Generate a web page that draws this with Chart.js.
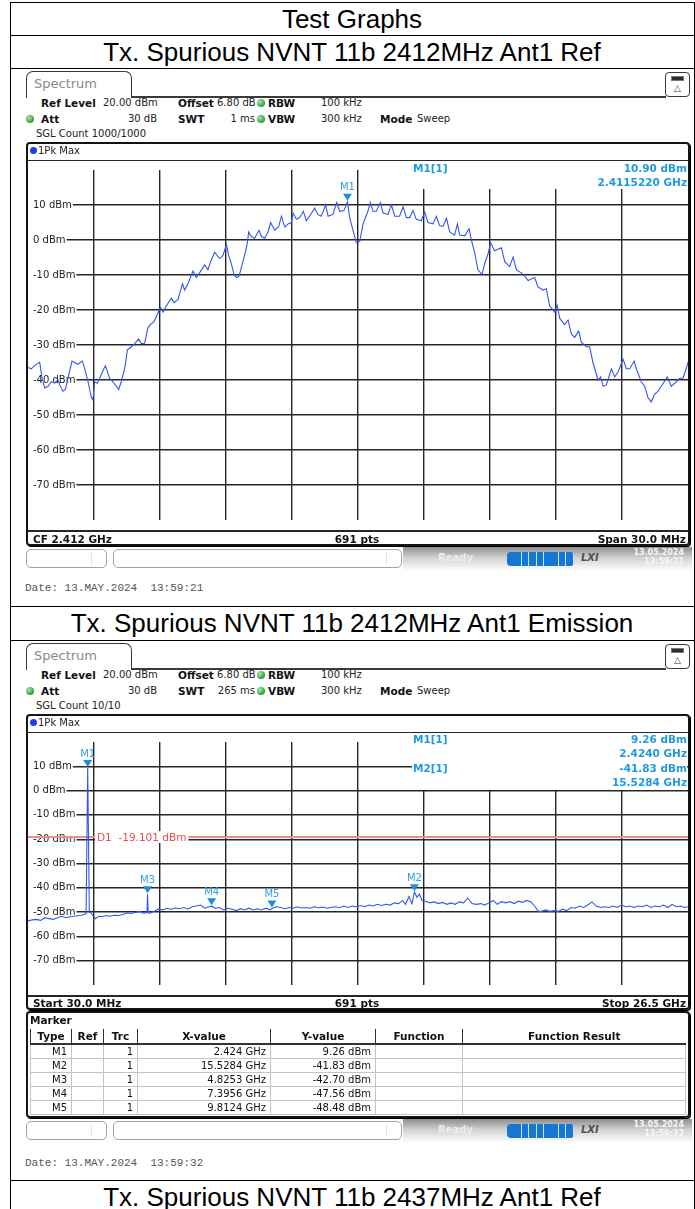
<!DOCTYPE html>
<html>
<head>
<meta charset="utf-8">
<script src="https://cdn.jsdelivr.net/npm/chart.js@4.4.1/dist/chart.umd.min.js"></script>
<style>
  html, body { margin: 0; padding: 0; background: #fff; }
  #page { position: relative; width: 695px; height: 1209px; overflow: hidden; font-family: 'DejaVu Sans', sans-serif; }
  canvas { position: absolute; }
  .ttl { position: absolute; left: 10px; width: 684px; text-align: center; font-family: 'Liberation Sans', Arial, sans-serif; font-size: 26px; color: #000; white-space: nowrap; }
  table.mk { position: absolute; border-collapse: collapse; table-layout: fixed; font-size: 10px; color: #111; }
  table.mk td, table.mk th { padding: 0 4px 0 0; white-space: nowrap; overflow: hidden; }
  table.mk th { font-weight: bold; font-size: 10.5px; text-align: center; padding: 0; height: 14px; line-height: 14px; border-left: 1px solid #333; border-bottom: 2px solid #333; }
  table.mk td { text-align: right; height: 13px; line-height: 13px; border: 1px solid #c4c4c4; }
</style>
</head>
<body>
<div id="page">
  <canvas id="refChart" width="661" height="372" style="left:28px;top:159px;width:661px;height:372px"></canvas>
  <canvas id="emiChart" width="661" height="265" style="left:28px;top:731px;width:661px;height:265px"></canvas>
</div>
<script>
// ---- Ref sweep: 2412 MHz carrier, 30 MHz span ----
const REF_FREQ_MHZ = [
  2397.00, 2397.15, 2397.30, 2397.53, 2397.64, 2397.76, 2397.91, 2398.06, 2398.21, 2398.36,
  2398.44, 2398.59, 2398.70, 2398.85, 2399.00, 2399.12, 2399.27, 2399.47, 2399.58, 2399.73,
  2399.88, 2399.95, 2400.03, 2400.15, 2400.26, 2400.41, 2400.52, 2400.64, 2400.71, 2400.86,
  2401.02, 2401.12, 2401.24, 2401.39, 2401.52, 2401.70, 2401.85, 2402.03, 2402.15, 2402.30,
  2402.45, 2402.56, 2402.73, 2403.02, 2403.14, 2403.29, 2403.52, 2403.64, 2403.82, 2404.02,
  2404.12, 2404.27, 2404.50, 2404.65, 2404.80, 2405.03, 2405.18, 2405.30, 2405.48, 2405.71,
  2405.86, 2406.02, 2406.12, 2406.24, 2406.36, 2406.47, 2406.59, 2406.73, 2406.88, 2406.97,
  2407.03, 2407.15, 2407.30, 2407.50, 2407.61, 2407.76, 2407.91, 2408.03, 2408.21, 2408.39,
  2408.52, 2408.67, 2408.82, 2408.97, 2409.05, 2409.20, 2409.35, 2409.52, 2409.65, 2409.80,
  2410.03, 2410.18, 2410.33, 2410.53, 2410.64, 2410.86, 2411.03, 2411.17, 2411.36, 2411.52,
  2411.62, 2411.77, 2411.92,
  2412.08, 2412.23, 2412.45, 2412.56, 2412.68, 2412.83, 2413.02, 2413.14, 2413.36, 2413.52,
  2413.67, 2413.89, 2414.05, 2414.20, 2414.35, 2414.50, 2414.65, 2414.88, 2415.03, 2415.18,
  2415.41, 2415.56, 2415.71, 2415.86, 2416.02, 2416.17, 2416.39, 2416.52, 2416.62, 2416.85,
  2417.05, 2417.15, 2417.30, 2417.45, 2417.64, 2417.76, 2417.91, 2418.03, 2418.21, 2418.52,
  2418.67, 2418.89, 2419.05, 2419.20, 2419.42, 2419.58, 2419.73, 2420.03, 2420.18, 2420.41,
  2420.56, 2420.71, 2420.94, 2421.05, 2421.17, 2421.39, 2421.55, 2421.70, 2421.85, 2422.03,
  2422.15, 2422.38, 2422.53, 2422.68, 2422.91, 2423.03, 2423.14, 2423.29, 2423.52, 2423.67,
  2423.82, 2424.05, 2424.20, 2424.35, 2424.55, 2424.65, 2424.88, 2425.03, 2425.18, 2425.33,
  2425.48, 2425.64, 2425.79, 2426.06, 2426.24, 2426.47, 2426.62, 2426.77, 2426.92, 2427.00,
];
const REF_LEVEL_DBM = [
  -36.4, -36.8, -35.9, -34.9, -39.5, -42.3, -41.8, -40.5, -40.9, -40.0,
  -41.4, -43.2, -42.7, -38.6, -34.6, -35.0, -35.5, -34.6, -36.8, -40.5,
  -45.0, -45.7, -40.5, -40.9, -39.5, -37.3, -35.9, -38.2, -39.5, -40.5,
  -41.8, -42.7, -40.5, -36.8, -31.4, -30.5, -29.6, -28.3, -29.6, -29.5,
  -25.1, -24.2, -23.3, -19.3, -20.6, -18.8, -16.6, -17.9, -17.0, -12.5,
  -14.3, -12.5, -8.9, -10.7, -9.4, -7.1, -8.5, -6.2, -3.5, -5.3,
  -4.4, -1.3, -4.4, -6.7, -9.8, -10.7, -10.3, -7.1, -3.5, -0.8,
  2.3, 1.0, 0.5, 2.8, 1.0, 0.5, 2.3, 5.0, 2.8, 3.7,
  6.8, 3.7, 4.6, 5.0, 7.7, 5.9, 6.4, 8.2, 5.5, 6.8,
  9.1, 7.3, 6.8, 10.0, 6.8, 7.3, 10.7, 8.2, 8.4, 10.9,
  6.4, 2.8, -0.8,
  -0.4, 4.6, 8.2, 10.7, 8.2, 8.2, 10.7, 7.7, 7.3, 10.0,
  6.8, 6.8, 9.5, 6.4, 6.4, 8.4, 5.9, 5.5, 8.0, 5.0,
  4.6, 6.8, 4.1, 3.9, 6.2, 2.3, 1.4, 4.6, 1.4, 1.2,
  3.2, 0.1, -3.5, -8.5, -9.8, -6.7, -4.0, -0.8, -3.1, -2.2,
  -6.2, -7.6, -4.9, -8.5, -9.4, -10.3, -11.6, -10.7, -13.4, -14.3,
  -13.9, -18.8, -20.6, -18.6, -22.4, -24.2, -22.9, -26.9, -27.8, -26.0,
  -29.2, -30.5, -30.5, -35.0, -40.0, -39.1, -41.8, -41.4, -36.8, -39.1,
  -37.7, -34.1, -36.8, -36.8, -34.6, -36.8, -40.5, -41.8, -45.0, -46.3,
  -44.1, -43.2, -41.8, -39.1, -41.8, -40.5, -39.5, -39.5, -36.8, -35.0,
];
const REF_MARKER_NAMES = ['M1'];
const REF_MARKER_FREQ_MHZ = [2411.522];
const REF_MARKER_LEVEL = [10.90];

// ---- Emission sweep: 30 MHz .. 26.5 GHz ----
const EMI_FREQ_GHZ = [
  0.03, 0.20, 0.37, 0.54, 0.71, 0.87, 1.04, 1.21, 1.38, 1.55,
  1.72, 1.89, 2.06, 2.22, 2.36, 2.424, 2.49, 2.56, 2.65, 2.73,
  2.87, 2.98, 3.15, 3.32, 3.49, 3.66, 3.83, 4.00, 4.17, 4.33,
  4.50, 4.67, 4.80, 4.8253, 4.85, 4.93, 5.09, 5.26, 5.43, 5.60,
  5.77, 5.94, 6.11, 6.28, 6.44, 6.61, 6.78, 6.95, 7.12, 7.29,
  7.3956, 7.54, 7.71, 7.88, 8.05, 8.22, 8.39, 8.55, 8.72, 8.89,
  9.06, 9.23, 9.40, 9.57, 9.74, 9.8124, 9.99, 10.16, 10.33, 10.50,
  10.66, 10.83, 11.00, 11.17, 11.34, 11.51, 11.68, 11.85, 12.02, 12.18,
  12.35, 12.52, 12.69, 12.86, 13.03, 13.20, 13.37, 13.54, 13.70, 13.87,
  14.04, 14.21, 14.38, 14.55, 14.72, 14.89, 15.05, 15.17, 15.31, 15.43,
  15.5284, 15.63, 15.73, 15.83, 15.98, 16.15, 16.32, 16.49, 16.66, 16.83,
  17.00, 17.16, 17.33, 17.50, 17.67, 17.84, 18.01, 18.18, 18.35, 18.51,
  18.68, 18.85, 19.02, 19.19, 19.36, 19.53, 19.70, 19.86, 20.03, 20.20,
  20.37, 20.49, 20.62, 20.79, 20.96, 21.13, 21.30, 21.47, 21.64, 21.81,
  21.97, 22.14, 22.31, 22.48, 22.65, 22.82, 22.99, 23.16, 23.32, 23.49,
  23.66, 23.83, 24.00, 24.17, 24.34, 24.51, 24.68, 24.84, 25.01, 25.18,
  25.35, 25.52, 25.69, 25.86, 26.03, 26.20, 26.37, 26.50,
];
const EMI_LEVEL_DBM = [
  -53.6, -53.2, -53.0, -53.4, -52.3, -52.7, -53.0, -52.3, -51.7, -52.3,
  -51.9, -51.7, -51.4, -51.2, -50.6, 9.26, -50.0, -50.4, -51.7, -52.7,
  -51.7, -51.9, -51.4, -51.7, -51.3, -51.4, -51.0, -50.4, -50.6, -50.1,
  -49.7, -50.4, -50.2, -42.70, -50.3, -50.4, -49.7, -48.8, -49.1, -48.4,
  -48.8, -48.3, -48.6, -48.1, -48.8, -47.8, -47.5, -47.1, -48.4, -47.8,
  -47.56, -48.4, -48.1, -49.1, -48.4, -48.8, -49.4, -48.6, -49.1, -48.4,
  -49.1, -48.6, -49.1, -48.4, -49.1, -48.48, -47.8, -48.1, -48.6, -48.1,
  -48.4, -47.8, -48.3, -48.1, -48.4, -47.8, -48.2, -47.9, -48.4, -48.1,
  -47.8, -48.2, -47.5, -48.1, -47.5, -47.8, -47.3, -47.8, -47.1, -47.5,
  -46.8, -47.3, -46.8, -47.1, -46.2, -46.5, -45.2, -46.8, -43.6, -46.5,
  -41.83, -43.9, -42.6, -45.2, -45.5, -46.2, -45.8, -46.5, -46.0, -46.8,
  -46.2, -46.8, -45.8, -46.2, -44.2, -46.5, -46.8, -46.5, -47.1, -46.2,
  -45.2, -46.8, -45.7, -46.2, -45.7, -46.5, -45.5, -46.0, -45.2, -45.8,
  -47.8, -49.6, -49.7, -49.1, -49.7, -49.4, -49.7, -48.8, -49.4, -48.1,
  -48.4, -47.5, -48.1, -47.1, -45.8, -47.5, -48.1, -47.8, -48.1, -47.5,
  -48.1, -47.1, -47.8, -47.5, -48.1, -47.5, -47.8, -47.1, -48.1, -47.5,
  -47.8, -47.1, -48.1, -46.8, -47.8, -47.5, -48.1, -47.8,
];
const EMI_MARKER_NAMES = ['M1', 'M2', 'M3', 'M4', 'M5'];
const EMI_MARKER_FREQ_GHZ = [2.424, 15.5284, 4.8253, 7.3956, 9.8124];
const EMI_MARKER_LEVEL = [9.26, -41.83, -42.70, -47.56, -48.48];
const EMI_MARKER_X_TEXT = ['2.424 GHz', '15.5284 GHz', '4.8253 GHz', '7.3956 GHz', '9.8124 GHz'];
const D1_LEVEL = -19.101;

const Y_MIN = -80;
const Y_MAX = 20;

Chart.defaults.font.family = "'DejaVu Sans', sans-serif";
Chart.defaults.animation = false;

const page = document.getElementById('page');
const BLUE_TXT = '#1f9ae2';
const GRID = '#262626';

function box(x, y, w, h, css) {
  const d = document.createElement('div');
  d.style.cssText = `position:absolute;left:${x}px;top:${y}px;width:${w}px;height:${h}px;box-sizing:border-box;` + (css || '');
  page.appendChild(d);
  return d;
}

function text(x, yc, s, css, align) {
  const d = document.createElement('div');
  let pos = `left:${x}px;`;
  if (align === 'right') pos = `right:${695 - x}px;`;
  if (align === 'center') pos = `left:${x - 200}px;width:400px;text-align:center;`;
  d.style.cssText = `position:absolute;${pos}top:${yc - 8}px;height:16px;line-height:16px;white-space:pre;font-size:10.5px;color:#111;` + (css || '');
  d.textContent = s;
  page.appendChild(d);
  return d;
}

function dot(x, yc) {
  box(x - 4, yc - 4, 8, 8, 'border-radius:50%;background:radial-gradient(circle at 35% 35%, #a6e8a6, #2f9d3b 70%);');
}

// outer report table
function hline(y) { box(10, y, 685, 1, 'background:#000;'); }
[2, 35, 68, 606, 640, 1180].forEach(hline);
box(10, 2, 1, 1207, 'background:#000;');
box(694, 2, 1, 1207, 'background:#000;');

function title(y, h, s) {
  const d = document.createElement('div');
  d.className = 'ttl';
  d.style.top = y + 'px';
  d.style.height = h + 'px';
  d.style.lineHeight = h + 'px';
  d.textContent = s;
  page.appendChild(d);
}
title(3, 32, 'Test Graphs');
title(36, 32, 'Tx. Spurious NVNT 11b 2412MHz Ant1 Ref');
title(607, 33, 'Tx. Spurious NVNT 11b 2412MHz Ant1 Emission');
title(1181, 32, 'Tx. Spurious NVNT 11b 2437MHz Ant1 Ref');

// analyzer window chrome
function panelHeader(y0, swt, count) {
  box(26, y0, 106, 27, 'border:1.5px solid #3a3a3a;border-bottom:none;border-radius:7px 7px 0 0;background:#fff;');
  text(34, y0 + 13, 'Spectrum', 'font-size:13px;color:#8a8a8a;');
  box(131, y0 + 25, 535, 1.5, 'background:#3a3a3a;');
  box(665, y0 + 1, 25, 25, 'border:1.5px solid #3a3a3a;border-radius:4px;background:#fff;');
  box(671, y0 + 5, 13, 5, 'background:#2e2e2e;border:1px solid #777;');
  text(677.5, y0 + 17, '△', 'font-size:9px;color:#333;', 'center');

  const r1 = y0 + 32, r2 = y0 + 48, r3 = y0 + 63;
  const B = 'font-weight:bold;';
  const V = 'font-size:10px;color:#222;';
  text(41, r1, 'Ref Level', B);
  text(103, r1, '20.00 dBm', V);
  text(178, r1, 'Offset', B);
  text(217, r1, '6.80 dB', V);
  dot(261, r1);
  text(268, r1, 'RBW', B);
  text(321, r1, '100 kHz', V);

  dot(30, r2);
  text(41, r2, 'Att', B);
  text(157, r2, '30 dB', V, 'right');
  text(178, r2, 'SWT', B);
  text(255, r2, swt, V, 'right');
  dot(261, r2);
  text(268, r2, 'VBW', B);
  text(321, r2, '300 kHz', V);
  text(380, r2, 'Mode', B);
  text(417, r2, 'Sweep', V);

  text(36, r3, count, V);
}

function plotFrame(top, gridTop, gridBottom, bottom, leftTxt, rightTxt) {
  box(26, top, 664, bottom - top, 'border:2px solid #141414;border-radius:4px;box-shadow:1px 1px 0 #000;');
  box(30, top + 5, 7, 7, 'border-radius:50%;background:#1d3fe6;');
  text(38, top + 9, '1Pk Max', 'font-size:10px;color:#222;');
  box(28, gridTop, 660, 1.4, `background:${GRID};`);
  box(28, gridBottom, 660, 1.6, `background:${GRID};`);
  const yc = (gridBottom + bottom) / 2 + 0.5;
  text(33, yc, leftTxt, 'font-weight:bold;');
  text(357, yc, '691 pts', 'font-weight:bold;', 'center');
  text(686, yc, rightTxt, 'font-weight:bold;', 'right');
}

function statusBar(y, timeStr) {
  box(26, y, 81, 19, 'border:1px solid #a2a2a2;border-radius:5px;background:#fff;');
  box(91, y + 3, 1, 13, 'background:#e4e4e4;');
  box(113, y, 289, 19, 'border:1px solid #a2a2a2;border-radius:5px;background:#fff;');
  box(386, y + 3, 1, 13, 'background:#e4e4e4;');
  box(403, y - 2, 289, 24, 'background:linear-gradient(#8e8e8e, #d2d2d2 45%, #ffffff);');
  text(438, y + 9, 'Ready', 'color:#ececec;font-weight:bold;font-size:10px;');
  box(507, y + 3, 67, 14, 'border-radius:4px;background:repeating-linear-gradient(90deg, #1677d2 0 6.5px, #cfe2f6 6.5px 7.4px);');
  text(581, y + 9, 'LXI', 'color:#505050;font-weight:bold;font-style:italic;font-size:10px;');
  text(684, y + 4, '13.05.2024', 'color:#f6f6f6;font-weight:bold;font-size:8px;', 'right');
  text(684, y + 13, timeStr, 'color:#f6f6f6;font-weight:bold;font-size:8px;', 'right');
}

function dateLine(y, s) {
  text(25, y, s, "font-family:'Liberation Mono', monospace;font-size:11px;color:#555;");
}

// marker triangles + display line label, placed through the chart scales
function markerPlugin(names, freqs, levels, dLine) {
  return {
    id: 'specMarkers',
    afterDatasetsDraw(chart) {
      const { ctx, chartArea } = chart;
      const xs = chart.scales.x;
      const ys = chart.scales.y;
      ctx.save();
      if (dLine !== undefined) {
        const py = ys.getPixelForValue(dLine);
        const label = 'D1  ' + dLine.toFixed(3) + ' dBm';
        ctx.font = "10.5px 'DejaVu Sans'";
        const w = ctx.measureText(label).width;
        ctx.fillStyle = '#fff';
        ctx.fillRect(chartArea.left + 67, py - 6, w + 4, 12);
        ctx.fillStyle = '#f04848';
        ctx.textAlign = 'left';
        ctx.textBaseline = 'middle';
        ctx.fillText(label, chartArea.left + 69, py + 1);
      }
      names.forEach((name, i) => {
        const px = xs.getPixelForValue(freqs[i]);
        const py = ys.getPixelForValue(levels[i]);
        ctx.fillStyle = '#1c8fd8';
        ctx.beginPath();
        ctx.moveTo(px - 4.5, py - 8);
        ctx.lineTo(px + 4.5, py - 8);
        ctx.lineTo(px, py - 1);
        ctx.closePath();
        ctx.fill();
        ctx.fillStyle = '#2ba2e6';
        ctx.font = "10px 'DejaVu Sans'";
        ctx.textAlign = 'center';
        ctx.textBaseline = 'middle';
        ctx.fillText(name, px, py - 14);
      });
      ctx.restore();
    },
  };
}

function spectrumChart(id, freqs, levels, xMin, xMax, plugin, extraSets) {
  const datasets = [
    {
      data: freqs.map((f, i) => ({ x: f, y: levels[i] })),
      borderColor: '#3556ee',
      borderWidth: 1.1,
      pointRadius: 0,
      tension: 0,
    },
  ].concat(extraSets || []);

  return new Chart(document.getElementById(id), {
    type: 'line',
    data: { datasets },
    options: {
      responsive: false,
      maintainAspectRatio: false,
      layout: { padding: { left: 0, right: 1, top: 1, bottom: 1 } },
      plugins: { legend: { display: false }, tooltip: { enabled: false } },
      scales: {
        x: {
          type: 'linear',
          min: xMin,
          max: xMax,
          border: { display: false },
          grid: {
            drawTicks: false,
            lineWidth: 1.4,
            color: ctx => (ctx.index === 0 || ctx.index === 10 ? 'rgba(0,0,0,0)' : GRID),
          },
          ticks: { display: false },
          afterBuildTicks(scale) {
            scale.ticks = Array.from({ length: 11 }, (_, k) => ({ value: scale.min + (k * (scale.max - scale.min)) / 10 }));
          },
          afterFit(scale) { scale.height = 0; },
        },
        y: {
          min: Y_MIN,
          max: Y_MAX,
          border: { display: false },
          grid: { drawTicks: false, lineWidth: 1.4, color: GRID },
          afterFit(scale) { scale.width = 0; },
          ticks: {
            stepSize: 10,
            mirror: true,
            padding: 5,
            color: '#1e1e1e',
            font: { size: 10 },
            showLabelBackdrop: true,
            backdropColor: '#fff',
            backdropPadding: { left: 5, right: 1, top: 0, bottom: 0 },
            callback: v => (v >= Y_MAX || v <= Y_MIN ? null : v + ' dBm'),
          },
        },
      },
    },
    plugins: [plugin],
  });
}

// ---------- panel 1: Ref ----------
panelHeader(71, '1 ms', 'SGL Count 1000/1000');
spectrumChart('refChart', REF_FREQ_MHZ, REF_LEVEL_DBM, 2397, 2427,
  markerPlugin(REF_MARKER_NAMES, REF_MARKER_FREQ_MHZ, REF_MARKER_LEVEL));
plotFrame(142, 160, 530, 546, 'CF 2.412 GHz', 'Span 30.0 MHz');
box(359, 161, 328, 28, 'background:#fff;');
text(413, 168, 'M1[1]', `color:${BLUE_TXT};font-weight:bold;`);
text(687, 168, REF_MARKER_LEVEL[0].toFixed(2) + ' dBm', `color:${BLUE_TXT};font-weight:bold;`, 'right');
text(687, 182, (REF_MARKER_FREQ_MHZ[0] / 1000).toFixed(7) + ' GHz', `color:${BLUE_TXT};font-weight:bold;`, 'right');
statusBar(549, '13:59:21');
dateLine(588, 'Date: 13.MAY.2024  13:59:21');

// ---------- panel 2: Emission ----------
panelHeader(643, '265 ms', 'SGL Count 10/10');
spectrumChart('emiChart', EMI_FREQ_GHZ, EMI_LEVEL_DBM, 0.03, 26.5,
  markerPlugin(EMI_MARKER_NAMES, EMI_MARKER_FREQ_GHZ, EMI_MARKER_LEVEL, D1_LEVEL),
  [{
    data: [{ x: 0.03, y: D1_LEVEL }, { x: 26.5, y: D1_LEVEL }],
    borderColor: '#f38a8a',
    borderWidth: 2,
    pointRadius: 0,
  }]);
plotFrame(714, 732, 995, 1010, 'Start 30.0 MHz', 'Stop 26.5 GHz');
box(412, 733, 275, 57, 'background:#fff;');
text(413, 739, 'M1[1]', `color:${BLUE_TXT};font-weight:bold;`);
text(687, 739, EMI_MARKER_LEVEL[0].toFixed(2) + ' dBm', `color:${BLUE_TXT};font-weight:bold;`, 'right');
text(687, 753, EMI_MARKER_FREQ_GHZ[0].toFixed(4) + ' GHz', `color:${BLUE_TXT};font-weight:bold;`, 'right');
text(413, 768, 'M2[1]', `color:${BLUE_TXT};font-weight:bold;`);
text(687, 768, EMI_MARKER_LEVEL[1].toFixed(2) + ' dBm', `color:${BLUE_TXT};font-weight:bold;`, 'right');
text(687, 782, EMI_MARKER_FREQ_GHZ[1].toFixed(4) + ' GHz', `color:${BLUE_TXT};font-weight:bold;`, 'right');

// marker table
box(26, 1011, 664, 107, 'border:2px solid #141414;border-radius:4px;box-shadow:1px 1px 0 #000;');
text(30, 1020, 'Marker', 'font-weight:bold;');
const tbl = document.createElement('table');
tbl.className = 'mk';
tbl.style.left = '30px';
tbl.style.top = '1029px';
tbl.style.width = '655px';
const colW = [41, 32, 34, 133, 105, 87, 223];
const heads = ['Type', 'Ref', 'Trc', 'X-value', 'Y-value', 'Function', 'Function Result'];
let html = '<colgroup>' + colW.map(w => `<col style="width:${w}px">`).join('') + '</colgroup>';
html += '<tr>' + heads.map(h => `<th>${h}</th>`).join('') + '</tr>';
EMI_MARKER_NAMES.forEach((n, i) => {
  html += `<tr><td>${n}</td><td></td><td>1</td><td>${EMI_MARKER_X_TEXT[i]}</td>` +
    `<td>${EMI_MARKER_LEVEL[i].toFixed(2)} dBm</td><td></td><td></td></tr>`;
});
tbl.innerHTML = html;
page.appendChild(tbl);

statusBar(1121, '13:59:32');
dateLine(1163, 'Date: 13.MAY.2024  13:59:32');
</script>
</body>
</html>
